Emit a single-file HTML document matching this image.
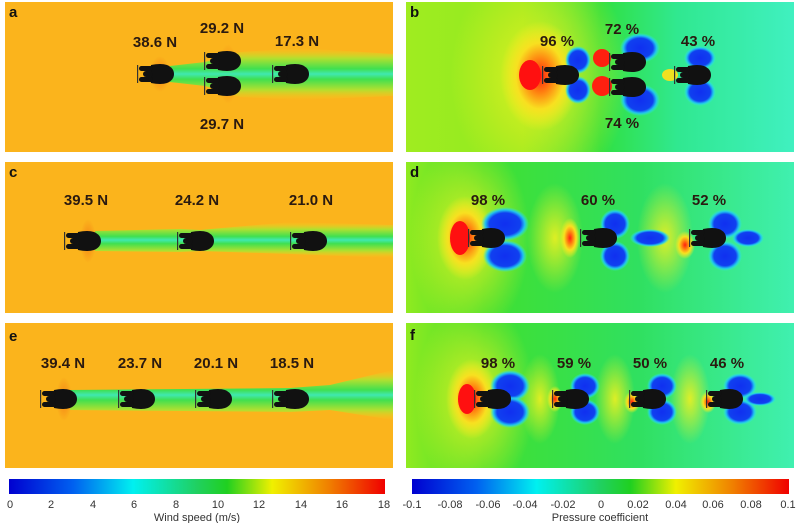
<!DOCTYPE html>
<html><head><meta charset="utf-8"><style>
html,body{margin:0;padding:0;background:#fff;}
svg{display:block}
text{font-family:"Liberation Sans",sans-serif;}
.lb{font-weight:bold;font-size:15px;fill:#2a1a10;text-anchor:middle}
.pl{font-weight:bold;font-size:15px;fill:#111;}
.tk{font-size:11px;fill:#333;text-anchor:middle}
</style></head><body>
<svg width="800" height="523" viewBox="0 0 800 523" xmlns="http://www.w3.org/2000/svg">
<defs>
<g id="cy">
  <path d="M-4,-9 Q6,-11 12,-9 Q19,-6 19,0 Q19,6 12,9 Q6,11 -4,9 Q-6,0 -4,-9Z" fill="#111"/>
  <rect x="-16" y="-8" width="14" height="5" rx="2.5" fill="#111"/>
  <rect x="-16" y="3" width="14" height="5" rx="2.5" fill="#111"/>
  <rect x="-12" y="-3" width="10" height="6" rx="3" fill="#111"/>
  <rect x="-18" y="-9" width="1.2" height="18" fill="#333"/>
</g>
<radialGradient id="hot" cx="0.5" cy="0.5" r="0.5"><stop offset="0" stop-color="#f06010" stop-opacity="0.6"/><stop offset="1" stop-color="#f06010" stop-opacity="0"/></radialGradient>
<linearGradient id="wake" x1="0" y1="0" x2="0" y2="1">
  <stop offset="0" stop-color="#f5d020" stop-opacity="0"/><stop offset="0.2" stop-color="#b0e030"/><stop offset="0.4" stop-color="#40e050"/><stop offset="0.5" stop-color="#40e8b0"/><stop offset="0.6" stop-color="#40e050"/><stop offset="0.8" stop-color="#b0e030"/><stop offset="1" stop-color="#f5d020" stop-opacity="0"/>
</linearGradient>
<linearGradient id="pbg" x1="0" y1="0" x2="1" y2="0">
  <stop offset="0" stop-color="#a0ec20"/><stop offset="0.3" stop-color="#90ea20"/><stop offset="0.5" stop-color="#30e040"/><stop offset="0.7" stop-color="#30e890"/><stop offset="1" stop-color="#40f0c0"/>
</linearGradient>
<linearGradient id="pbg2" x1="0" y1="0" x2="1" y2="0">
  <stop offset="0" stop-color="#90ea20"/><stop offset="0.2" stop-color="#40e030"/><stop offset="0.6" stop-color="#30e060"/><stop offset="1" stop-color="#40f0b0"/>
</linearGradient>
<radialGradient id="yel" cx="0.5" cy="0.5" r="0.5"><stop offset="0" stop-color="#ff2010"/><stop offset="0.3" stop-color="#ff8010"/><stop offset="0.6" stop-color="#f8e020"/><stop offset="1" stop-color="#f8f020" stop-opacity="0"/></radialGradient>
<radialGradient id="yel2" cx="0.5" cy="0.5" r="0.5"><stop offset="0" stop-color="#f0f020" stop-opacity="0.9"/><stop offset="1" stop-color="#f0f020" stop-opacity="0"/></radialGradient>
<radialGradient id="blu" cx="0.5" cy="0.5" r="0.5"><stop offset="0" stop-color="#1030f0"/><stop offset="0.65" stop-color="#1040f0"/><stop offset="0.82" stop-color="#20c0f0"/><stop offset="1" stop-color="#30f0e0" stop-opacity="0"/></radialGradient>
<linearGradient id="cbw" x1="0" y1="0" x2="1" y2="0">
  <stop offset="0" stop-color="#0000d0"/><stop offset="0.17" stop-color="#0060f0"/><stop offset="0.33" stop-color="#00f0f0"/><stop offset="0.5" stop-color="#20d060"/><stop offset="0.58" stop-color="#20d020"/><stop offset="0.7" stop-color="#f0f000"/><stop offset="0.85" stop-color="#f08000"/><stop offset="1" stop-color="#f00000"/>
</linearGradient>
<clipPath id="ca"><rect x="5" y="2" width="388" height="150"/></clipPath>
<clipPath id="cc"><rect x="5" y="162" width="388" height="151"/></clipPath>
<clipPath id="ce"><rect x="5" y="323" width="388" height="145"/></clipPath>
<clipPath id="cb"><rect x="406" y="2" width="388" height="150"/></clipPath>
<clipPath id="cd"><rect x="406" y="162" width="388" height="151"/></clipPath>
<clipPath id="cf"><rect x="406" y="323" width="388" height="145"/></clipPath>
</defs>

<!-- a -->
<g clip-path="url(#ca)">
<rect x="5" y="2" width="388" height="150" fill="#fbb41c"/>
<ellipse cx="160" cy="74" rx="10" ry="18" fill="url(#hot)"/>
<ellipse cx="228" cy="74" rx="10" ry="30" fill="url(#hot)"/>
<path d="M170,66 L205,62 L240,52 L300,48 L393,54 L393,96 L300,100 L240,97 L205,86 L170,82Z" fill="url(#wake)"/>
<use href="#cy" x="155" y="74"/><use href="#cy" x="222" y="61"/><use href="#cy" x="222" y="86"/><use href="#cy" x="290" y="74"/>
</g>
<text class="pl" x="9" y="17">a</text>
<text class="lb" x="155" y="47">38.6 N</text><text class="lb" x="222" y="33">29.2 N</text><text class="lb" x="297" y="46">17.3 N</text><text class="lb" x="222" y="129">29.7 N</text>

<!-- c -->
<g clip-path="url(#cc)">
<rect x="5" y="162" width="388" height="151" fill="#fbb41c"/>
<ellipse cx="88" cy="241" rx="8" ry="22" fill="url(#hot)"/>
<path d="M95,231 L180,229 L200,230 L290,222 L393,225 L393,258 L290,254 L200,251 L180,252 L95,251Z" fill="url(#wake)"/>
<use href="#cy" x="82" y="241"/><use href="#cy" x="195" y="241"/><use href="#cy" x="308" y="241"/>
</g>
<text class="pl" x="9" y="177">c</text>
<text class="lb" x="86" y="205">39.5 N</text><text class="lb" x="197" y="205">24.2 N</text><text class="lb" x="311" y="205">21.0 N</text>

<!-- e -->
<g clip-path="url(#ce)">
<rect x="5" y="323" width="388" height="145" fill="#fbb41c"/>
<ellipse cx="64" cy="399" rx="8" ry="22" fill="url(#hot)"/>
<path d="M70,390 L290,388 L330,385 L393,370 L393,420 L330,410 L290,412 L70,410Z" fill="url(#wake)"/>
<use href="#cy" x="58" y="399"/><use href="#cy" x="136" y="399"/><use href="#cy" x="213" y="399"/><use href="#cy" x="290" y="399"/>
</g>
<text class="pl" x="9" y="341">e</text>
<text class="lb" x="63" y="368">39.4 N</text><text class="lb" x="140" y="368">23.7 N</text><text class="lb" x="216" y="368">20.1 N</text><text class="lb" x="292" y="368">18.5 N</text>

<!-- b -->
<g clip-path="url(#cb)">
<rect x="406" y="2" width="388" height="150" fill="url(#pbg)"/>
<ellipse cx="540" cy="76" rx="90" ry="120" fill="url(#yel2)"/>
<ellipse cx="540" cy="76" rx="40" ry="55" fill="url(#yel)"/>
<ellipse cx="530" cy="75" rx="11" ry="15" fill="#ff1010"/>
<ellipse cx="578" cy="60" rx="13" ry="14" fill="url(#blu)"/>
<ellipse cx="578" cy="90" rx="13" ry="14" fill="url(#blu)"/>
<ellipse cx="602" cy="58" rx="9" ry="9" fill="#ff2010"/>
<ellipse cx="602" cy="86" rx="10" ry="10" fill="#ff2010"/>
<ellipse cx="640" cy="48" rx="20" ry="15" fill="url(#blu)"/>
<ellipse cx="640" cy="100" rx="20" ry="16" fill="url(#blu)"/>
<ellipse cx="700" cy="58" rx="16" ry="12" fill="url(#blu)"/>
<ellipse cx="700" cy="92" rx="16" ry="14" fill="url(#blu)"/>
<ellipse cx="670" cy="75" rx="8" ry="6" fill="#f0e020"/>
<use href="#cy" x="560" y="75"/><use href="#cy" x="627" y="62"/><use href="#cy" x="627" y="87"/><use href="#cy" x="692" y="75"/>
</g>
<text class="pl" x="410" y="17">b</text>
<text class="lb" x="557" y="46">96 %</text><text class="lb" x="622" y="34">72 %</text><text class="lb" x="698" y="46">43 %</text><text class="lb" x="622" y="128">74 %</text>

<!-- d -->
<g clip-path="url(#cd)">
<rect x="406" y="162" width="388" height="151" fill="url(#pbg2)"/>
<ellipse cx="470" cy="238" rx="60" ry="100" fill="url(#yel2)"/>
<ellipse cx="465" cy="238" rx="28" ry="42" fill="url(#yel)"/>
<ellipse cx="460" cy="238" rx="10" ry="17" fill="#ff1010"/>
<ellipse cx="555" cy="238" rx="28" ry="55" fill="url(#yel2)"/>
<ellipse cx="570" cy="238" rx="10" ry="20" fill="url(#yel)"/>
<ellipse cx="665" cy="238" rx="28" ry="55" fill="url(#yel2)"/>
<ellipse cx="685" cy="245" rx="10" ry="14" fill="url(#yel)"/>
<ellipse cx="505" cy="224" rx="24" ry="17" fill="url(#blu)"/>
<ellipse cx="505" cy="256" rx="22" ry="16" fill="url(#blu)"/>
<ellipse cx="615" cy="224" rx="15" ry="15" fill="url(#blu)"/>
<ellipse cx="615" cy="256" rx="15" ry="15" fill="url(#blu)"/>
<ellipse cx="650" cy="238" rx="20" ry="9" fill="url(#blu)"/>
<ellipse cx="725" cy="224" rx="17" ry="15" fill="url(#blu)"/>
<ellipse cx="725" cy="256" rx="17" ry="15" fill="url(#blu)"/>
<ellipse cx="748" cy="238" rx="16" ry="9" fill="url(#blu)"/>
<use href="#cy" x="486" y="238"/><use href="#cy" x="598" y="238"/><use href="#cy" x="707" y="238"/>
</g>
<text class="pl" x="410" y="177">d</text>
<text class="lb" x="488" y="205">98 %</text><text class="lb" x="598" y="205">60 %</text><text class="lb" x="709" y="205">52 %</text>

<!-- f -->
<g clip-path="url(#cf)">
<rect x="406" y="323" width="388" height="145" fill="url(#pbg2)"/>
<ellipse cx="475" cy="399" rx="60" ry="100" fill="url(#yel2)"/>
<ellipse cx="472" cy="399" rx="26" ry="40" fill="url(#yel)"/>
<ellipse cx="467" cy="399" rx="9" ry="15" fill="#ff1010"/>
<ellipse cx="540" cy="399" rx="20" ry="45" fill="url(#yel2)"/>
<ellipse cx="615" cy="399" rx="20" ry="45" fill="url(#yel2)"/>
<ellipse cx="690" cy="399" rx="20" ry="45" fill="url(#yel2)"/>
<ellipse cx="555" cy="399" rx="8" ry="13" fill="url(#yel)"/>
<ellipse cx="632" cy="402" rx="8" ry="11" fill="url(#yel)"/>
<ellipse cx="708" cy="402" rx="8" ry="11" fill="url(#yel)"/>
<ellipse cx="510" cy="386" rx="20" ry="16" fill="url(#blu)"/>
<ellipse cx="510" cy="412" rx="20" ry="16" fill="url(#blu)"/>
<ellipse cx="585" cy="386" rx="15" ry="13" fill="url(#blu)"/>
<ellipse cx="585" cy="412" rx="15" ry="13" fill="url(#blu)"/>
<ellipse cx="662" cy="386" rx="15" ry="13" fill="url(#blu)"/>
<ellipse cx="662" cy="412" rx="15" ry="13" fill="url(#blu)"/>
<ellipse cx="740" cy="386" rx="17" ry="13" fill="url(#blu)"/>
<ellipse cx="740" cy="412" rx="17" ry="13" fill="url(#blu)"/>
<ellipse cx="760" cy="399" rx="16" ry="7" fill="url(#blu)"/>
<use href="#cy" x="492" y="399"/><use href="#cy" x="570" y="399"/><use href="#cy" x="647" y="399"/><use href="#cy" x="724" y="399"/>
</g>
<text class="pl" x="410" y="340">f</text>
<text class="lb" x="498" y="368">98 %</text><text class="lb" x="574" y="368">59 %</text><text class="lb" x="650" y="368">50 %</text><text class="lb" x="727" y="368">46 %</text>

<!-- colorbars -->
<rect x="9" y="479" width="376" height="15" fill="url(#cbw)"/>
<g class="tk">
<text x="10" y="508">0</text><text x="51" y="508">2</text><text x="93" y="508">4</text><text x="134" y="508">6</text><text x="176" y="508">8</text><text x="218" y="508">10</text><text x="259" y="508">12</text><text x="301" y="508">14</text><text x="342" y="508">16</text><text x="384" y="508">18</text>
<text x="197" y="521">Wind speed (m/s)</text>
</g>
<rect x="412" y="479" width="377" height="15" fill="url(#cbw)"/>
<g class="tk">
<text x="412" y="508">-0.1</text><text x="450" y="508">-0.08</text><text x="488" y="508">-0.06</text><text x="525" y="508">-0.04</text><text x="563" y="508">-0.02</text><text x="601" y="508">0</text><text x="638" y="508">0.02</text><text x="676" y="508">0.04</text><text x="713" y="508">0.06</text><text x="751" y="508">0.08</text><text x="788" y="508">0.1</text>
<text x="600" y="521">Pressure coefficient</text>
</g>
</svg>
</body></html>
